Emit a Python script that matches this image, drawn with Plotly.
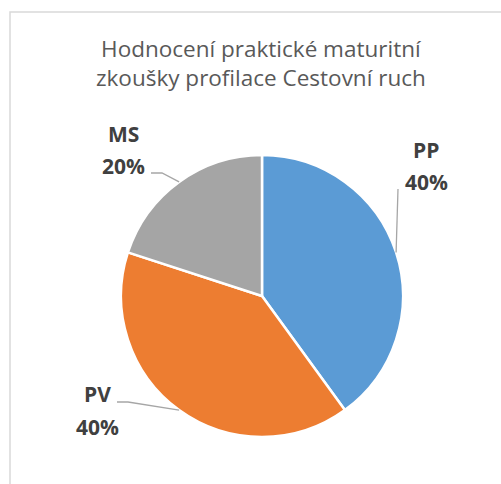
import math
import plotly.graph_objects as go

# ---- data ----
categories = ["PP", "PV", "MS"]
values = [40, 40, 20]
colors = ["#5B9BD5", "#ED7D31", "#A5A5A5"]
title_text = "Hodnocení praktické maturitní<br>zkoušky profilace Cestovní ruch"

W, H = 501, 484
CX, CY, R = 262, 296, 141  # pie centre / radius in px


def px(x):
    return x / W


def py(y):
    return 1 - y / H


fig = go.Figure(go.Pie(
    labels=categories,
    values=values,
    marker=dict(colors=colors, line=dict(color="white", width=2.5)),
    sort=False,
    direction="clockwise",
    rotation=0,
    textinfo="none",
    hoverinfo="label+percent",
    domain=dict(x=[px(CX - R), px(CX + R)], y=[py(CY + R), py(CY - R)]),
    showlegend=False,
))

# label layout (pixel positions of the name / percent lines, and leader elbows)
label_pos = {
    "PP": dict(x=426, y_name=149.5, y_pct=182.5, path=[(398, 189)]),
    "PV": dict(x=97.5, y_name=394, y_pct=426.5, path=[(117, 402), (128, 402)]),
    "MS": dict(x=123, y_name=134, y_pct=166, path=[(151, 173), (162, 173)]),
}

total = sum(values)
annotations = [dict(
    text=title_text, x=px(261), y=py(63), xref="paper", yref="paper",
    showarrow=False, xanchor="center", yanchor="middle",
    font=dict(family="Open Sans", size=22.5, color="#595959"),
)]
shapes = [dict(
    type="rect", xref="paper", yref="paper",
    x0=px(10), x1=1.05, y0=-0.05, y1=py(12),
    line=dict(color="#D9D9D9", width=1.5), fillcolor="rgba(0,0,0,0)", layer="below",
)]

cum = 0
for cat, val in zip(categories, values):
    mid = (cum + val / 2) / total * 2 * math.pi
    cum += val
    ex = CX + R * math.sin(mid)
    ey = CY - R * math.cos(mid)
    lp = label_pos[cat]
    pct = f"{round(val / total * 100)}%"
    for txt, yy in ((cat, lp["y_name"]), (pct, lp["y_pct"])):
        annotations.append(dict(
            text=f"<b>{txt}</b>", x=px(lp["x"]), y=py(yy), xref="paper", yref="paper",
            showarrow=False, xanchor="center", yanchor="middle",
            font=dict(family="Open Sans", size=21, color="#404040"),
        ))
    pts = lp["path"] + [(ex, ey)]
    path = "M " + " L ".join(f"{px(a)},{py(b)}" for a, b in pts)
    shapes.append(dict(type="path", xref="paper", yref="paper", path=path,
                       line=dict(color="#A6A6A6", width=1.3)))

fig.update_layout(
    width=W, height=H,
    margin=dict(l=0, r=0, t=0, b=0),
    paper_bgcolor="white", plot_bgcolor="white",
    annotations=annotations, shapes=shapes,
)

fig.write_html(
    "out.html",
    config={"displayModeBar": False},
    post_script="document.body.style.margin='0';document.body.style.overflow='hidden';",
)
